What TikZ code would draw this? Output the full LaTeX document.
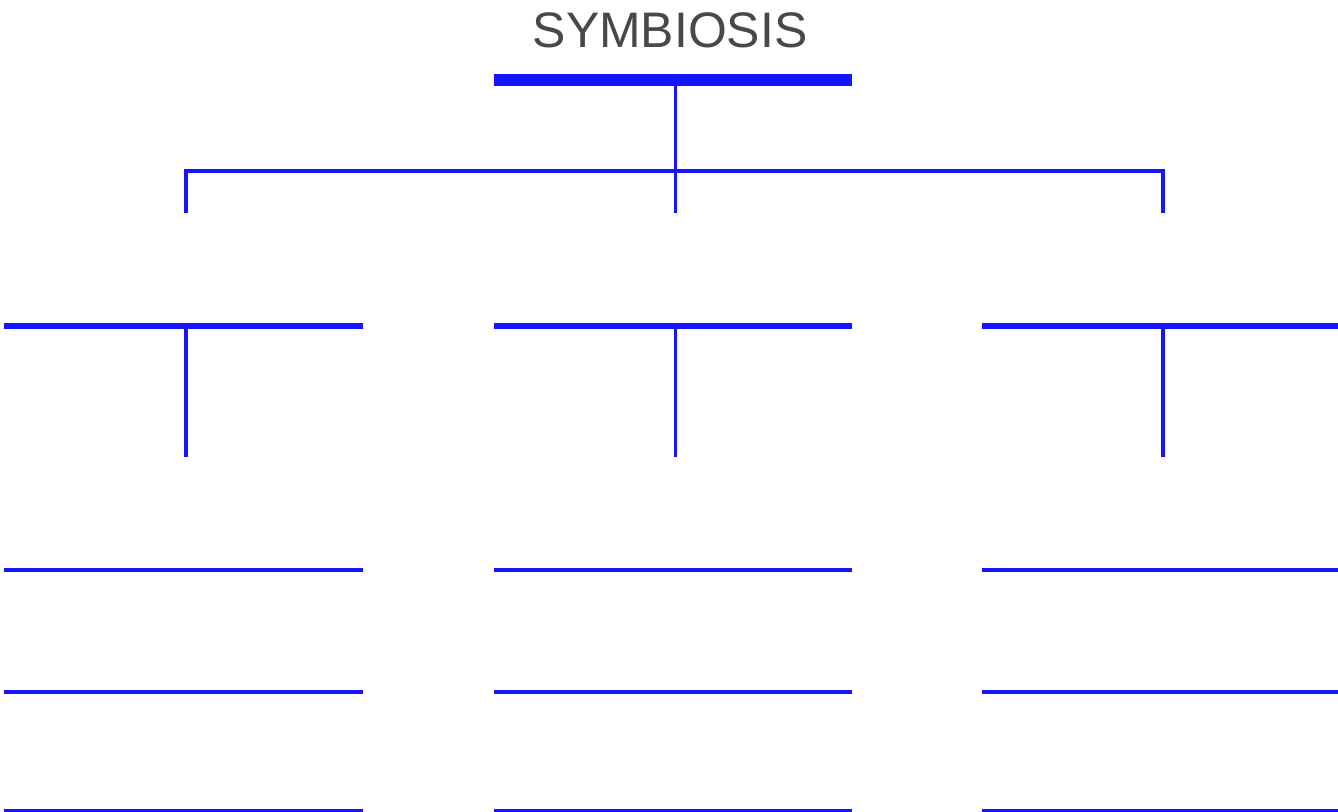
\documentclass[tikz,border=0pt]{standalone}
\usepackage{fontspec}
\setmainfont{Liberation Sans}
\usetikzlibrary{positioning}
\definecolor{rulecol}{RGB}{20,20,255}
\definecolor{titlecol}{RGB}{72,72,72}
\tikzset{
  title/.style={inner sep=0pt, text=titlecol, font=\fontsize{14.2}{17}\selectfont},
  slot/.style={inner sep=0pt, minimum width=3.57cm, minimum height=0pt},
  rule/.style={draw=rulecol, line width=1.4pt},
  link/.style={draw=rulecol, line width=1pt}
}

\begin{document}
\begin{tikzpicture}
\useasboundingbox (0,0) rectangle (13.38,-8.12);
% top
\node[title] (root) at (6.70,-0.30) {SYMBIOSIS};
\node[slot] (bar) at (6.73,-0.80) {};
\draw[rule, line width=3.3pt] (bar.west) -- (bar.east);
\coordinate (j) at (6.755,-1.71);
\coordinate (d1) at (1.86,-2.13);
\coordinate (d2) at (6.755,-2.13);
\coordinate (d3) at (11.63,-2.13);
\draw[link] (bar.center -| j) -- (d2);
\draw[link, line width=1.3pt] (d1) |- (j) -| (d3);
% columns
\foreach \c/\x in {1/1.835, 2/6.73, 3/11.61}{
  \node[slot] (s\c a) at (\x,-3.26) {};
  \node[slot] (s\c b) at (\x,-5.70) {};
  \node[slot] (s\c c) at (\x,-6.92) {};
  \node[slot] (s\c d) at (\x,-8.11) {};
  \draw[rule, line width=1.8pt] (s\c a.west) -- (s\c a.east);
  \foreach \r in {b,c,d}
    \draw[rule] (s\c\r.west) -- (s\c\r.east);
}
\draw[link] (s1a.center -| d1) -- ++(0,-1.31);
\draw[link] (s2a.center -| d2) -- ++(0,-1.31);
\draw[link] (s3a.center -| d3) -- ++(0,-1.31);
\end{tikzpicture}
\end{document}
